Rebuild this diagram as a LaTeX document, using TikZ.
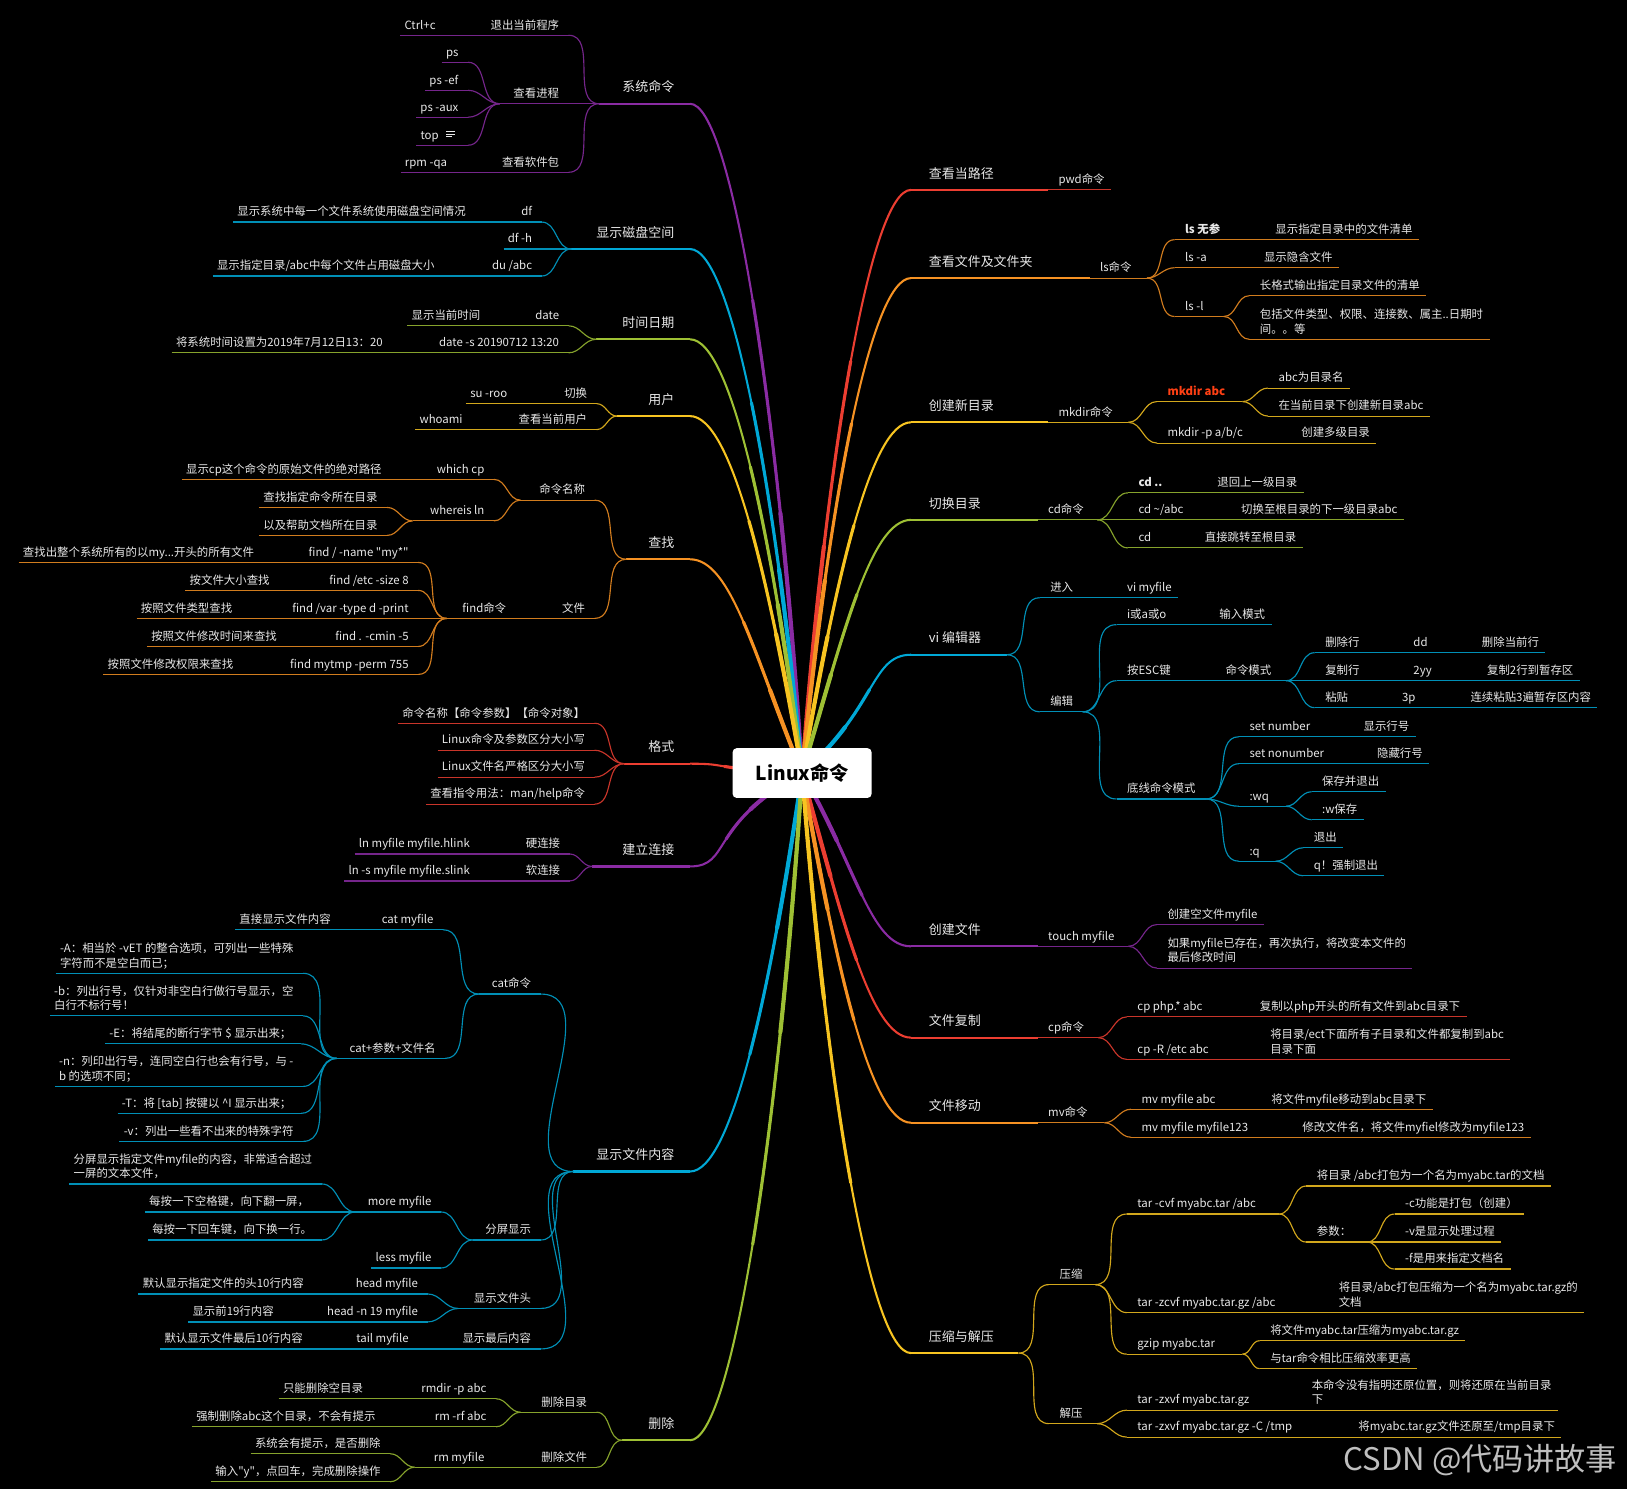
\documentclass[tikz,border=0pt]{standalone}
\usepackage{fontspec}
\setmainfont{Noto Sans CJK SC}[Ligatures=TeXOff]
\usetikzlibrary{calc}
\definecolor{cpur}{RGB}{138,43,163}
\definecolor{ccya}{RGB}{0,168,214}
\definecolor{clim}{RGB}{158,192,52}
\definecolor{cyel}{RGB}{247,196,33}
\definecolor{cora}{RGB}{246,146,35}
\definecolor{cred}{RGB}{236,62,49}
\definecolor{mkred}{RGB}{255,64,20}
\definecolor{txt}{RGB}{232,232,232}
\colorlet{bc}{cpur}
\newcommand\fs{\fontsize{11}{14}\selectfont}
\newcommand\fm{\fontsize{12.5}{15}\selectfont}
\newcommand\two[2]{\vbox{\hbox{#1}\hbox{#2}}}
% left side: main topic, inner topic, leaf
\newcommand\lmain[4]{%
  \node[topic, anchor=south east] (#1) at (665,#3)
    {\makebox[\dimexpr665pt-#2pt\relax][r]{#4\kern15pt}};
  \draw[mainline] (#1.south west) -- (#1.south east);}
\newcommand\lnd[5]{%
  \node[sub, anchor=south east] (#1) at (#3,#4)
    {\makebox[\dimexpr#3pt-#2pt\relax][r]{#5\kern9pt}};
  \draw[subline] (#1.south west) -- (#1.south east);}
\newcommand\lleaf[4]{%
  \node[sub, anchor=south east] (#1) at (#2,#3) {\kern4pt#4\kern9pt};
  \draw[subline] (#1.south west) -- (#1.south east);}
% right side
\newcommand\rmain[4]{%
  \node[topic, anchor=south west] (#1) at (878,#3)
    {\makebox[\dimexpr#2pt-878pt\relax][l]{\kern17pt#4}};
  \draw[mainline] (#1.south west) -- (#1.south east);}
\newcommand\rnd[5]{%
  \node[sub, anchor=south west] (#1) at (#2,#4)
    {\makebox[\dimexpr#3pt-#2pt\relax][l]{\kern10pt#5}};
  \draw[subline] (#1.south west) -- (#1.south east);}
\newcommand\rleaf[4]{%
  \node[sub, anchor=south west] (#1) at (#2,#3) {\kern10pt#4\kern6pt};
  \draw[subline] (#1.south west) -- (#1.south east);}
% main branch from the root, thick near the root
\newcommand\mbr[3]{%
  \path let \p1=(root), \p2=(#2.#3),
    \n1={min(1.6,0.2+120/max(1,abs(\y2-(\y1))))} in
    coordinate (b0) at (\p1)
    coordinate (b1) at ({\x1+0.55*\n1*(\x2-(\x1))},{\y1+0.55*(\y2-(\y1))})
    coordinate (b2) at ({\x2-0.37*(\x2-(\x1))},\y2)
    coordinate (b3) at (\p2);
  \coordinate (h1) at ($(b0)!.5!(b1)$);
  \coordinate (m1) at ($(b1)!.5!(b2)$);
  \coordinate (m2) at ($(b2)!.5!(b3)$);
  \coordinate (h2) at ($(h1)!.5!(m1)$);
  \coordinate (k1) at ($(m1)!.5!(m2)$);
  \coordinate (h3) at ($(h2)!.5!(k1)$);
  \coordinate (q1) at ($(b0)!.5!(h1)$);
  \coordinate (m3) at ($(h1)!.5!(h2)$);
  \coordinate (m4) at ($(h2)!.5!(h3)$);
  \coordinate (q2) at ($(q1)!.5!(m3)$);
  \coordinate (k2) at ($(m3)!.5!(m4)$);
  \coordinate (q3) at ($(q2)!.5!(k2)$);
  \draw[#1, line width=2pt] (b0) .. controls (b1) and (b2) .. (b3);
  \draw[#1, line width=3pt, line cap=round] (b0) .. controls (h1) and (h2) .. (h3);
  \draw[#1, line width=4pt, line cap=round] (b0) .. controls (q1) and (q2) .. (q3);}

\begin{document}
\begin{tikzpicture}[x=1pt, y=-1pt,
  every node/.style={text=txt},
  topic/.style={inner sep=0pt, text depth=11.2pt, font=\fm},
  sub/.style={inner sep=0pt, text depth=5.8pt, font=\fs},
  mainline/.style={draw=bc, line width=2.2pt},
  subline/.style={draw=bc!85!black, line width=1.1pt},
  con/.style={draw=bc!85!black, line width=1.1pt},
  rootbox/.style={fill=white, rounded corners=4pt, minimum width=134pt,
    minimum height=48pt, inner sep=0pt, text=black,
    font=\fontsize{18.5}{20}\selectfont\bfseries}]
\useasboundingbox (0,0) rectangle (1568,1435);
\fill[black] (0,0) rectangle (1568,1435);
\coordinate (root) at (773,745);

%%% left side
% 系统命令
\colorlet{bc}{cpur}
\lmain{sys}{578}{100}{系统命令}
\lnd{quit}{465}{548}{34}{退出当前程序}
\lleaf{ctrlc}{429}{34}{Ctrl+c}
\lnd{proc}{482}{548}{100}{查看进程}
\lleaf{ps}{451}{60}{ps}
\lleaf{psef}{451}{87}{ps -ef}
\lleaf{psaux}{451}{113}{ps -aux}
\lleaf{top}{451}{140}{top\kern19pt}
\foreach \dy/\len in {13/8.5, 10.6/8.5, 8.2/6}
  \draw[txt, line width=0.7pt] ([xshift=-21pt, yshift=\dy pt]top.south east) -- +(\len,0);
\lnd{pkg}{465}{548}{166}{查看软件包}
\lleaf{rpm}{440}{166}{rpm -qa}
\foreach \a/\b in {sys/quit, sys/proc, sys/pkg, quit/ctrlc, proc/ps, proc/psef,
  proc/psaux, proc/top, pkg/rpm}
  \draw[con] (\a.south west) to[out=180, in=0] (\b.south east);

% 显示磁盘空间
\colorlet{bc}{ccya}
\lmain{disk}{551}{240}{显示磁盘空间}
\lnd{df}{470}{522}{214}{df}
\lleaf{dfinfo}{458}{214}{显示系统中每一个文件系统使用磁盘空间情况}
\lleaf{dfh}{522}{240}{df -h}
\lnd{du}{460}{522}{266}{du /abc}
\lleaf{duinfo}{428}{266}{显示指定目录/abc中每个文件占用磁盘大小}
\foreach \a/\b in {disk/df, disk/dfh, disk/du, df/dfinfo, du/duinfo}
  \draw[con] (\a.south west) to[out=180, in=0] (\b.south east);

% 时间日期
\colorlet{bc}{clim}
\lmain{time}{575}{327}{时间日期}
\lnd{date}{472}{548}{314}{date}
\lleaf{now}{472}{314}{显示当前时间}
\lnd{dateset}{378}{548}{340}{date -s 20190712 13:20}
\lleaf{settime}{378}{340}{将系统时间设置为2019年7月12日13：20}
\foreach \a/\b in {time/date, time/dateset, date/now, dateset/settime}
  \draw[con] (\a.south west) to[out=180, in=0] (\b.south east);

% 用户
\colorlet{bc}{cyel}
\lmain{user}{595}{401}{用户}
\lnd{switch}{498}{575}{389}{切换}
\lleaf{su}{498}{389}{su -roo}
\lnd{who}{455}{575}{414}{查看当前用户}
\lleaf{whoami}{455}{414}{whoami}
\foreach \a/\b in {user/switch, user/who, switch/su, who/whoami}
  \draw[con] (\a.south west) to[out=180, in=0] (\b.south east);

% 查找
\colorlet{bc}{cora}
\lmain{find}{604}{539}{查找}
\lnd{cmdname}{502}{573}{482}{命令名称}
\lnd{which}{377}{476}{462}{which cp}
\lleaf{whichinfo}{377}{462}{显示cp这个命令的原始文件的绝对路径}
\lnd{whereis}{398}{476}{502}{whereis ln}
\lleaf{whereis1}{373}{489}{查找指定命令所在目录}
\lleaf{whereis2}{373}{516}{以及帮助文档所在目录}
\lnd{file}{497}{573}{596}{文件}
\lnd{findcmd}{431}{497}{596}{find命令}
\lnd{fname}{254}{403}{542}{find / -name "my*"}
\lleaf{fname0}{254}{542}{查找出整个系统所有的以my...开头的所有文件}
\lnd{fsize}{269}{403}{569}{find /etc -size 8}
\lleaf{fsize0}{269}{569}{按文件大小查找}
\lnd{ftype}{233}{403}{596}{find /var -type d -print}
\lleaf{ftype0}{233}{596}{按照文件类型查找}
\lnd{fcmin}{276}{403}{623}{find . -cmin -5}
\lleaf{fcmin0}{276}{623}{按照文件修改时间来查找}
\lnd{fperm}{234}{403}{650}{find mytmp -perm 755}
\lleaf{fperm0}{234}{650}{按照文件修改权限来查找}
\foreach \a/\b in {find/cmdname, find/file, cmdname/which, cmdname/whereis,
  which/whichinfo, whereis/whereis1, whereis/whereis2, file/findcmd,
  findcmd/fname, findcmd/fsize, findcmd/ftype, findcmd/fcmin, findcmd/fperm,
  fname/fname0, fsize/fsize0, ftype/ftype0, fcmin/fcmin0, fperm/fperm0}
  \draw[con] (\a.south west) to[out=180, in=0] (\b.south east);

% 格式
\colorlet{bc}{cred}
\lmain{fmt}{602}{736}{格式}
\lleaf{fmt1}{573}{697}{命令名称【命令参数】【命令对象】}
\lleaf{fmt2}{573}{723}{Linux命令及参数区分大小写}
\lleaf{fmt3}{573}{749}{Linux文件名严格区分大小写}
\lleaf{fmt4}{573}{775}{查看指令用法：man/help命令}
\foreach \a/\b in {fmt/fmt1, fmt/fmt2, fmt/fmt3, fmt/fmt4}
  \draw[con] (\a.south west) to[out=180, in=0] (\b.south east);

% 建立连接
\colorlet{bc}{cpur}
\lmain{link}{571}{835}{建立连接}
\lnd{hard}{462}{549}{823}{硬连接}
\lleaf{hard0}{462}{823}{ln myfile myfile.hlink}
\lnd{soft}{462}{549}{849}{软连接}
\lleaf{soft0}{462}{849}{ln -s myfile myfile.slink}
\foreach \a/\b in {link/hard, link/soft, hard/hard0, soft/soft0}
  \draw[con] (\a.south west) to[out=180, in=0] (\b.south east);

% 显示文件内容
\colorlet{bc}{ccya}
\lmain{show}{553}{1129}{显示文件内容}
\lnd{catc}{462}{521}{958}{cat命令}
\lnd{catf}{328}{427}{896}{cat myfile}
\lleaf{catf0}{328}{896}{直接显示文件内容}
\lnd{catp}{325}{429}{1020}{cat+参数+文件名}
\lleaf{catA}{292}{938}{\two{-A：相当於 -vET 的整合选项，可列出一些特殊}{字符而不是空白而已；}}
\lleaf{catb}{292}{979}{\two{-b：列出行号，仅针对非空白行做行号显示，空}{白行不标行号！}}
\lleaf{catE}{290}{1006}{-E：将结尾的断行字节 \$ 显示出来；}
\lleaf{catn}{292}{1047}{\two{-n：列印出行号，连同空白行也会有行号，与 -}{b 的选项不同；}}
\lleaf{catT}{290}{1073}{-T：将 [tab] 按键以 \textasciicircum I 显示出来；}
\lleaf{catv}{292}{1100}{-v：列出一些看不出来的特殊字符}
\lnd{split}{456}{521}{1195}{分屏显示}
\lnd{more}{343}{425}{1168}{more myfile}
\lleaf{more1}{310}{1141}{\two{分屏显示指定文件myfile的内容，非常适合超过}{一屏的文本文件，}}
\lleaf{more2}{307}{1168}{每按一下空格键，向下翻一屏，}
\lleaf{more3}{310}{1195}{每按一下回车键，向下换一行。}
\lleaf{less}{425}{1222}{less myfile}
\lnd{head}{442}{521}{1261}{显示文件头}
\lnd{head1}{302}{412}{1247}{head myfile}
\lleaf{head10}{302}{1247}{默认显示指定文件的头10行内容}
\lnd{head2}{273}{412}{1274}{head -n 19 myfile}
\lleaf{head20}{273}{1274}{显示前19行内容}
\lnd{tail}{430}{521}{1300}{显示最后内容}
\lnd{tail1}{301}{403}{1300}{tail myfile}
\lleaf{tail10}{301}{1300}{默认显示文件最后10行内容}
\foreach \a/\b in {show/catc, show/split, show/head, show/tail, catc/catf,
  catc/catp, catf/catf0, catp/catA, catp/catb, catp/catE, catp/catn, catp/catT,
  catp/catv, split/more, split/less, more/more1, more/more2, more/more3,
  head/head1, head/head2, head1/head10, head2/head20, tail/tail1, tail1/tail10}
  \draw[con] (\a.south west) to[out=180, in=0] (\b.south east);

% 删除
\colorlet{bc}{clim}
\lmain{del}{600}{1388}{删除}
\lnd{deldir}{502}{575}{1361}{删除目录}
\lnd{rmdir}{385}{478}{1348}{rmdir -p abc}
\lleaf{rmdir0}{359}{1348}{只能删除空目录}
\lnd{rmrf}{385}{478}{1375}{rm -rf abc}
\lleaf{rmrf0}{371}{1375}{强制删除abc这个目录，不会有提示}
\lnd{delfile}{504}{575}{1414}{删除文件}
\lnd{rmf}{400}{476}{1414}{rm myfile}
\lleaf{rmf1}{376}{1401}{系统会有提示，是否删除}
\lleaf{rmf2}{376}{1428}{输入"y"，点回车，完成删除操作}
\foreach \a/\b in {del/deldir, del/delfile, deldir/rmdir, deldir/rmrf,
  rmdir/rmdir0, rmrf/rmrf0, delfile/rmf, rmf/rmf1, rmf/rmf2}
  \draw[con] (\a.south west) to[out=180, in=0] (\b.south east);

%%% right side
% 查看当路径
\colorlet{bc}{cred}
\rmain{pwd}{1010}{183}{查看当路径}
\rleaf{pwdc}{1010}{183}{pwd命令}
\draw[con] (pwd.south east) -- (pwdc.south west);

% 查看文件及文件夹
\colorlet{bc}{cora}
\rmain{lsm}{1050}{268}{查看文件及文件夹}
\rnd{ls}{1050}{1105}{268}{ls命令}
\rnd{ls0}{1132}{1219}{231}{\textbf{ls 无参}}
\rleaf{ls0i}{1219}{231}{显示指定目录中的文件清单}
\rnd{lsa}{1132}{1208}{258}{ls -a}
\rleaf{lsai}{1208}{258}{显示隐含文件}
\rnd{lsl}{1132}{1179}{305}{ls -l}
\rleaf{lsl1}{1204}{285}{长格式输出指定目录文件的清单}
\rleaf{lsl2}{1204}{327}{\two{包括文件类型、权限、连接数、属主..日期时}{间。。等}}
\foreach \a/\b in {lsm/ls, ls/ls0, ls/lsa, ls/lsl, ls0/ls0i, lsa/lsai,
  lsl/lsl1, lsl/lsl2}
  \draw[con] (\a.south east) to[out=0, in=180] (\b.south west);

% 创建新目录
\colorlet{bc}{cyel}
\rmain{mkm}{1010}{407}{创建新目录}
\rnd{mk}{1010}{1087}{407}{mkdir命令}
\rnd{mkabc}{1115}{1197}{387}{\textbf{\color{mkred}mkdir abc}}
\rleaf{mkabc1}{1222}{374}{abc为目录名}
\rleaf{mkabc2}{1222}{401}{在当前目录下创建新目录abc}
\rnd{mkp}{1115}{1244}{427}{mkdir -p a/b/c}
\rleaf{mkp0}{1244}{427}{创建多级目录}
\foreach \a/\b in {mkm/mk, mk/mkabc, mk/mkp, mkabc/mkabc1, mkabc/mkabc2, mkp/mkp0}
  \draw[con] (\a.south east) to[out=0, in=180] (\b.south west);

% 切换目录
\colorlet{bc}{clim}
\rmain{cdm}{1000}{501}{切换目录}
\rnd{cd}{1000}{1057}{501}{cd命令}
\rnd{cd1}{1087}{1163}{475}{\textbf{cd ..}}
\rleaf{cd1i}{1163}{475}{退回上一级目录}
\rnd{cd2}{1087}{1186}{501}{cd \textasciitilde/abc}
\rleaf{cd2i}{1186}{501}{切换至根目录的下一级目录abc}
\rnd{cd3}{1087}{1151}{528}{cd}
\rleaf{cd3i}{1151}{528}{直接跳转至根目录}
\foreach \a/\b in {cdm/cd, cd/cd1, cd/cd2, cd/cd3, cd1/cd1i, cd2/cd2i, cd3/cd3i}
  \draw[con] (\a.south east) to[out=0, in=180] (\b.south west);

% vi 编辑器
\colorlet{bc}{ccya}
\rmain{vim}{970}{631}{vi 编辑器}
\rnd{enter}{1002}{1076}{576}{进入}
\rleaf{enteri}{1076}{576}{vi myfile}
\rnd{edit}{1002}{1043}{686}{编辑}
\rnd{iao}{1076}{1165}{602}{i或a或o}
\rleaf{iaoi}{1165}{602}{输入模式}
\rnd{esc}{1076}{1171}{656}{按ESC键}
\rnd{cmdmode}{1171}{1239}{656}{命令模式}
\rnd{dl}{1267}{1352}{629}{删除行}
\rnd{dd}{1352}{1418}{629}{dd}
\rleaf{ddi}{1418}{629}{删除当前行}
\rnd{cl}{1267}{1352}{656}{复制行}
\rnd{yy}{1352}{1423}{656}{2yy}
\rleaf{yyi}{1423}{656}{复制2行到暂存区}
\rnd{pl}{1267}{1341}{682}{粘贴}
\rnd{p3}{1341}{1407}{682}{3p}
\rleaf{p3i}{1407}{682}{连续粘贴3遍暂存区内容}
\rnd{bottom}{1076}{1162}{770}{底线命令模式}
\rnd{setn}{1194}{1304}{710}{set number}
\rleaf{setni}{1304}{710}{显示行号}
\rnd{setnn}{1194}{1317}{736}{set nonumber}
\rleaf{setnni}{1317}{736}{隐藏行号}
\rnd{wq}{1194}{1239}{777}{:wq}
\rleaf{wq1}{1264}{763}{保存并退出}
\rleaf{wq2}{1264}{790}{:w保存}
\rnd{q}{1194}{1229}{830}{:q}
\rleaf{q1}{1256}{817}{退出}
\rleaf{q2}{1256}{844}{q！强制退出}
\foreach \a/\b in {vim/enter, vim/edit, enter/enteri, edit/iao, edit/esc,
  edit/bottom, iao/iaoi, esc/cmdmode, cmdmode/dl, cmdmode/cl, cmdmode/pl,
  dl/dd, dd/ddi, cl/yy, yy/yyi, pl/p3, p3/p3i, bottom/setn, bottom/setnn,
  bottom/wq, bottom/q, setn/setni, setnn/setnni, wq/wq1, wq/wq2, q/q1, q/q2}
  \draw[con] (\a.south east) to[out=0, in=180] (\b.south west);

% 创建文件
\colorlet{bc}{cpur}
\rmain{touchm}{1000}{912}{创建文件}
\rnd{touch}{1000}{1087}{912}{touch myfile}
\rleaf{touch1}{1115}{891}{创建空文件myfile}
\rleaf{touch2}{1115}{933}{\two{如果myfile已存在，再次执行，将改变本文件的}{最后修改时间}}
\foreach \a/\b in {touchm/touch, touch/touch1, touch/touch2}
  \draw[con] (\a.south east) to[out=0, in=180] (\b.south west);

% 文件复制
\colorlet{bc}{cred}
\rmain{cpm}{1000}{1000}{文件复制}
\rnd{cp}{1000}{1058}{1000}{cp命令}
\rnd{cp1}{1086}{1204}{980}{cp php.* abc}
\rleaf{cp1i}{1204}{980}{复制以php开头的所有文件到abc目录下}
\rnd{cp2}{1086}{1214}{1021}{cp -R /etc abc}
\rleaf{cp2i}{1214}{1021}{\two{将目录/ect下面所有子目录和文件都复制到abc}{目录下面}}
\foreach \a/\b in {cpm/cp, cp/cp1, cp/cp2, cp1/cp1i, cp2/cp2i}
  \draw[con] (\a.south east) to[out=0, in=180] (\b.south west);

% 文件移动
\colorlet{bc}{cora}
\rmain{mvm}{1000}{1082}{文件移动}
\rnd{mv}{1000}{1064}{1082}{mv命令}
\rnd{mv1}{1090}{1215}{1069}{mv myfile abc}
\rleaf{mv1i}{1215}{1069}{将文件myfile移动到abc目录下}
\rnd{mv2}{1090}{1245}{1096}{mv myfile myfile123}
\rleaf{mv2i}{1245}{1096}{修改文件名，将文件myfiel修改为myfile123}
\foreach \a/\b in {mvm/mv, mv/mv1, mv/mv2, mv1/mv1i, mv2/mv2i}
  \draw[con] (\a.south east) to[out=0, in=180] (\b.south west);

% 压缩与解压
\colorlet{bc}{cyel}
\rmain{tarm}{981}{1304}{压缩与解压}
\rnd{zip}{1011}{1055}{1238}{压缩}
\rnd{tar1}{1086}{1232}{1170}{tar -cvf myabc.tar /abc}
\rleaf{tar1a}{1259}{1143}{将目录 /abc打包为一个名为myabc.tar的文档}
\rnd{param}{1259}{1317}{1197}{参数：}
\rleaf{pc}{1344}{1170}{-c功能是打包（创建）}
\rleaf{pv}{1344}{1197}{-v是显示处理过程}
\rleaf{pf}{1344}{1223}{-f是用来指定文档名}
\rnd{tar2}{1086}{1280}{1265}{tar -zcvf myabc.tar.gz /abc}
\rleaf{tar2i}{1280}{1265}{\two{将目录/abc打包压缩为一个名为myabc.tar.gz的}{文档}}
\rnd{gz}{1086}{1197}{1305}{gzip myabc.tar}
\rleaf{gz1}{1214}{1292}{将文件myabc.tar压缩为myabc.tar.gz}
\rleaf{gz2}{1214}{1319}{与tar命令相比压缩效率更高}
\rnd{unzip}{1011}{1057}{1372}{解压}
\rnd{untar1}{1086}{1254}{1359}{tar -zxvf myabc.tar.gz}
\rleaf{untar1i}{1254}{1359}{\two{本命令没有指明还原位置，则将还原在当前目录}{下}}
\rnd{untar2}{1086}{1299}{1385}{tar -zxvf myabc.tar.gz -C /tmp}
\rleaf{untar2i}{1299}{1385}{将myabc.tar.gz文件还原至/tmp目录下}
\foreach \a/\b in {tarm/zip, tarm/unzip, zip/tar1, zip/tar2, zip/gz,
  tar1/tar1a, tar1/param, param/pc, param/pv, param/pf, tar2/tar2i,
  gz/gz1, gz/gz2, unzip/untar1, unzip/untar2, untar1/untar1i, untar2/untar2i}
  \draw[con] (\a.south east) to[out=0, in=180] (\b.south west);

%%% main branches
\mbr{cpur}{sys}{south east}
\mbr{ccya}{disk}{south east}
\mbr{clim}{time}{south east}
\mbr{cyel}{user}{south east}
\mbr{cora}{find}{south east}
\mbr{cred}{fmt}{south east}
\mbr{cpur}{link}{south east}
\mbr{ccya}{show}{south east}
\mbr{clim}{del}{south east}
\mbr{cred}{pwd}{south west}
\mbr{cora}{lsm}{south west}
\mbr{cyel}{mkm}{south west}
\mbr{clim}{cdm}{south west}
\mbr{ccya}{vim}{south west}
\mbr{cpur}{touchm}{south west}
\mbr{cred}{cpm}{south west}
\mbr{cora}{mvm}{south west}
\mbr{cyel}{tarm}{south west}

\node[rootbox] (linux) at (root) {Linux命令};
\node[anchor=east, text=white!75!black, font=\fontsize{30}{32}\selectfont]
  (mark) at (1562,1407) {CSDN @代码讲故事};
\end{tikzpicture}
\end{document}
